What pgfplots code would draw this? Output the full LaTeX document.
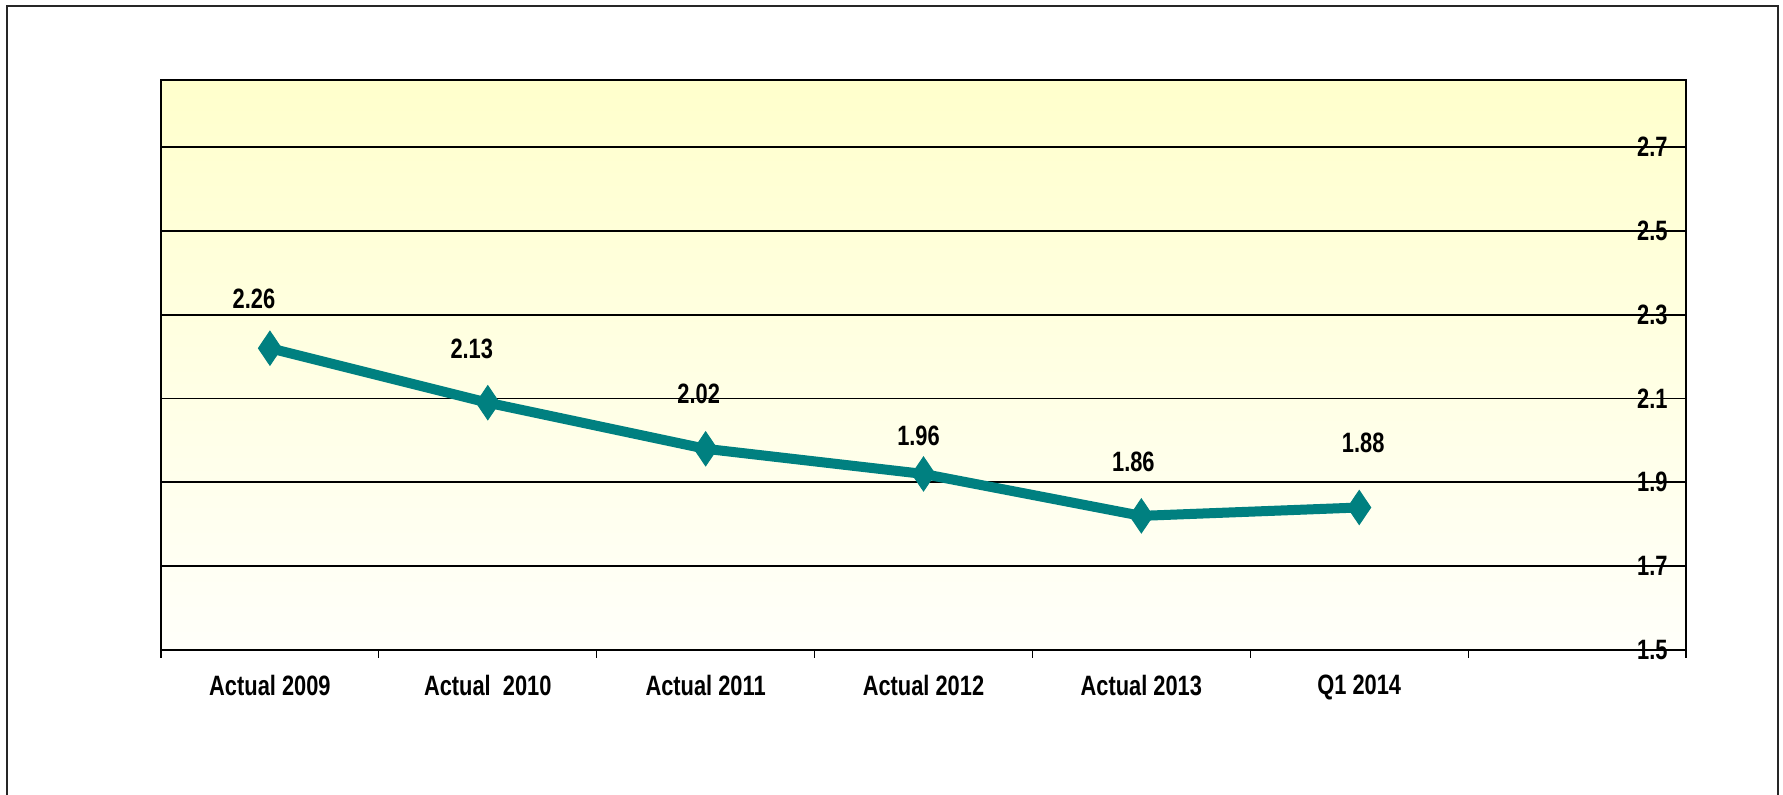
\documentclass[border=0pt]{standalone}
\usepackage{pgfplots}
\pgfplotsset{compat=1.18}
\usepackage{pgfplotstable}
\usepackage{fontspec}
\setmainfont{Liberation Sans}[FakeStretch=0.78]

\definecolor{lineteal}{RGB}{0,128,128}
\definecolor{bgtop}{RGB}{255,255,204}
\definecolor{bgbottom}{RGB}{255,255,250}

% x, value, label offset (dx, dy in pt)
\pgfplotstableread{
x y dx dy
0 2.26 -8 20
1 2.13 -8 22
2 2.02 -3.5 22.5
3 1.96 -2.5 14
4 1.86 -4 22
5 1.88 2 27.5
}\ratios

\begin{document}
\begin{tikzpicture}
\useasboundingbox (0,0) rectangle (891.5pt,397.5pt);
\draw[line width=1pt, black!85] (3.5pt,0) -- (3.5pt,394.5pt) -- (889pt,394.5pt) -- (889pt,0);
\begin{axis}[
    at={(80.5pt,72.5pt)}, anchor=south west,
    scale only axis, width=762.5pt, height=285pt,
    xmin=-0.5, xmax=6.5, ymin=1.54, ymax=2.9,
    axis background/.style={shade, top color=bgtop, bottom color=bgbottom},
    axis line style={line width=1pt},
    xtick={0,...,5},
    xticklabels={Actual 2009, Actual~~2010, Actual 2011, Actual 2012, Actual 2013, Q1 2014},
    minor xtick={-0.5,0.5,...,6.5},
    xtick pos=bottom,
    ytick={1.54,1.74,1.94,2.14,2.34,2.54,2.74},
    yticklabels={1.5,1.7,1.9,2.1,2.3,2.5,2.7},
    yticklabel pos=right,
    ymajorgrids,
    major grid style={black, line width=0.9pt},
    major tick length=0pt, minor tick length=4pt, tick align=outside,
    minor tick style={black, line width=0.6pt},
    ytick style={draw=none},
    ticklabel style={font=\bfseries\fontsize{14}{14}\selectfont, inner sep=0pt},
    xticklabel style={anchor=north, yshift=-12.5pt},
    yticklabel style={anchor=east, xshift=-9pt},
    /pgf/number format/.cd, fixed, fixed zerofill, precision=2, assume math mode=true,
]
\addplot[color=lineteal, line width=5pt, mark=diamond*, mark size=8.5pt,
    mark options={solid, line width=0.5pt, xscale=0.9},
    nodes near coords, point meta=y,
    visualization depends on={\thisrow{dx} \as \labdx},
    visualization depends on={\thisrow{dy} \as \labdy},
    every node near coord/.append style={anchor=base, inner sep=0pt,
        xshift=\labdx pt, yshift=\labdy pt, text=black,
        font=\bfseries\fontsize{14}{14}\selectfont}
] table[x=x, y=y] {\ratios};
\end{axis}
\end{tikzpicture}
\end{document}
